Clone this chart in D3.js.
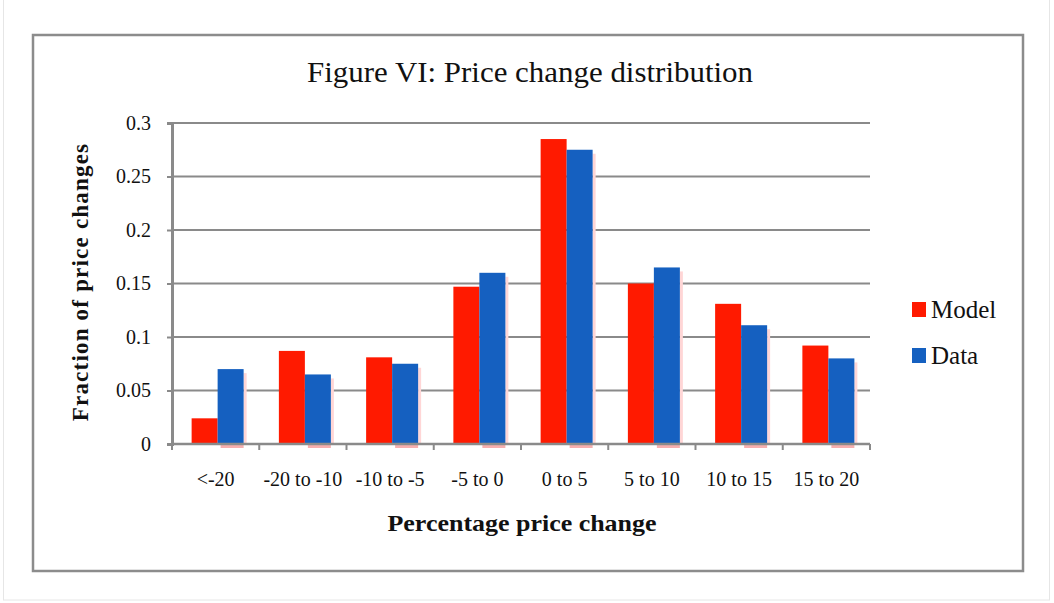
<!DOCTYPE html>
<html>
<head>
<meta charset="utf-8">
<script src="https://cdn.jsdelivr.net/npm/d3@7"></script>
<style>
  body { margin: 0; background: #fff; }
  text { font-family: "Liberation Serif", "Times New Roman", serif; fill: #111; }
</style>
</head>
<body>
<div id="chart"></div>
<script>
// Data
//-----
var categories = ["<-20", "-20 to -10", "-10 to -5", "-5 to 0", "0 to 5", "5 to 10", "10 to 15", "15 to 20"];
var modelValues = [0.024, 0.087, 0.081, 0.147, 0.285, 0.15, 0.131, 0.092];
var dataValues = [0.07, 0.065, 0.075, 0.16, 0.275, 0.165, 0.111, 0.08];
var yTicks = [0, 0.05, 0.1, 0.15, 0.2, 0.25, 0.3];
var seriesNames = ["Model", "Data"];
var seriesColors = ["#ff1a00", "#1560c0"];

// Sizing parameters
//------------------
var svgWidth = 1054;
var svgHeight = 603;

var margin = { top: 123, right: 184, bottom: 159, left: 172 };
var width = svgWidth - margin.left - margin.right;
var height = svgHeight - margin.top - margin.bottom;

// SVG wrapper
//------------
var svg = d3.select("#chart")
  .append("svg")
  .attr("width", svgWidth)
  .attr("height", svgHeight);

// outer faint border and chart frame
svg.append("rect")
  .attr("x", 3.5).attr("y", -2)
  .attr("width", svgWidth - 8).attr("height", svgHeight - 1)
  .attr("fill", "none").attr("stroke", "#e6e6e6").attr("stroke-width", 1);

svg.append("rect")
  .attr("x", 33).attr("y", 35)
  .attr("width", 990).attr("height", 536)
  .attr("fill", "#fff").attr("stroke", "#8c8c8c").attr("stroke-width", 2.5);

var chartGroup = svg.append("g")
  .attr("transform", `translate(${margin.left}, ${margin.top})`);

// Scales
//-------
var xScale = d3.scaleBand()
  .domain(categories)
  .range([0, width]);

var pairWidth = 52;
var xSub = d3.scaleBand()
  .domain(seriesNames)
  .range([0, pairWidth]);

var yScale = d3.scaleLinear()
  .domain([0, 0.3])
  .range([height, 0]);

// Gridlines
//----------
chartGroup.append("g")
  .selectAll("line")
  .data(yTicks.slice(1))
  .enter()
  .append("line")
  .attr("x1", 0)
  .attr("x2", width)
  .attr("y1", d => yScale(d))
  .attr("y2", d => yScale(d))
  .attr("stroke", "#8a8a8a")
  .attr("stroke-width", 2);

// Bars
//-----
var rows = categories.map((c, i) => ({ cat: c, values: [modelValues[i], dataValues[i]] }));

var groups = chartGroup.append("g")
  .selectAll("g")
  .data(rows)
  .enter()
  .append("g")
  .attr("transform", d => `translate(${xScale(d.cat) + (xScale.bandwidth() - pairWidth) / 2 + 2}, 0)`);

// faint pink glow next to / under the bars
groups.append("rect")
  .attr("x", xSub("Data") + xSub.bandwidth())
  .attr("y", d => yScale(d.values[1]) + 4)
  .attr("width", 3)
  .attr("height", d => height - yScale(d.values[1]) - 4)
  .attr("fill", "#ffd6d6");

groups.append("rect")
  .attr("x", xSub("Data") + 3)
  .attr("y", height + 1)
  .attr("width", xSub.bandwidth() - 3)
  .attr("height", 3)
  .attr("fill", "#f27a7a")
  .attr("opacity", 0.6);

groups.selectAll("rect.bar")
  .data(d => d.values.map((v, j) => ({ key: seriesNames[j], value: v, color: seriesColors[j] })))
  .enter()
  .append("rect")
  .classed("bar", true)
  .attr("x", d => xSub(d.key))
  .attr("y", d => yScale(d.value))
  .attr("width", xSub.bandwidth())
  .attr("height", d => height - yScale(d.value))
  .attr("fill", d => d.color);

// Axes
//-----
var leftAxis = d3.axisLeft(yScale)
  .tickValues(yTicks)
  .tickSize(5)
  .tickPadding(16)
  .tickFormat(d => d3.format("")(+d.toFixed(2)));

var yAxis = chartGroup.append("g").call(leftAxis);
yAxis.select(".domain").attr("stroke", "#8a8a8a").attr("stroke-width", 3);
yAxis.selectAll(".tick line").attr("stroke", "#8a8a8a").attr("stroke-width", 2);
yAxis.selectAll(".tick text")
  .attr("font-family", "Liberation Serif, serif")
  .attr("font-size", 20)
  .attr("fill", "#222");

// x axis baseline and boundary ticks
var xAxis = chartGroup.append("g").attr("transform", `translate(0, ${height})`);
xAxis.append("line")
  .attr("x1", 0).attr("x2", width)
  .attr("stroke", "#8a8a8a").attr("stroke-width", 2.5);

var boundaries = categories.map(c => xScale(c)).concat([width]);
xAxis.selectAll("line.tk")
  .data(boundaries)
  .enter()
  .append("line")
  .classed("tk", true)
  .attr("x1", d => d).attr("x2", d => d)
  .attr("y1", 0).attr("y2", 6)
  .attr("stroke", "#8a8a8a").attr("stroke-width", 2);

xAxis.selectAll("text")
  .data(categories)
  .enter()
  .append("text")
  .attr("x", d => xScale(d) + xScale.bandwidth() / 2)
  .attr("y", 42)
  .attr("text-anchor", "middle")
  .attr("font-size", 20)
  .attr("fill", "#222")
  .text(d => d);

// Titles
//-------
svg.append("text")
  .attr("x", 530)
  .attr("y", 82)
  .attr("text-anchor", "middle")
  .attr("font-size", 29)
  .attr("textLength", 446)
  .attr("lengthAdjust", "spacingAndGlyphs")
  .text("Figure VI: Price change distribution");

svg.append("text")
  .attr("x", 522)
  .attr("y", 531)
  .attr("text-anchor", "middle")
  .attr("font-size", 24)
  .attr("font-weight", "bold")
  .attr("textLength", 269)
  .attr("lengthAdjust", "spacingAndGlyphs")
  .text("Percentage price change");

svg.append("text")
  .attr("transform", "translate(88, 282) rotate(-90)")
  .attr("text-anchor", "middle")
  .attr("font-size", 23)
  .attr("font-weight", "bold")
  .attr("letter-spacing", 1.2)
  .text("Fraction of price changes");

// Legend
//-------
var legend = svg.append("g")
  .selectAll("g")
  .data(seriesNames)
  .enter()
  .append("g")
  .attr("transform", (d, i) => `translate(912, ${302 + i * 46})`);

legend.append("rect")
  .attr("width", 14)
  .attr("height", 15)
  .attr("fill", (d, i) => seriesColors[i]);

legend.append("text")
  .attr("x", 19)
  .attr("y", 16)
  .attr("font-size", 25)
  .text(d => d);
</script>
</body>
</html>
